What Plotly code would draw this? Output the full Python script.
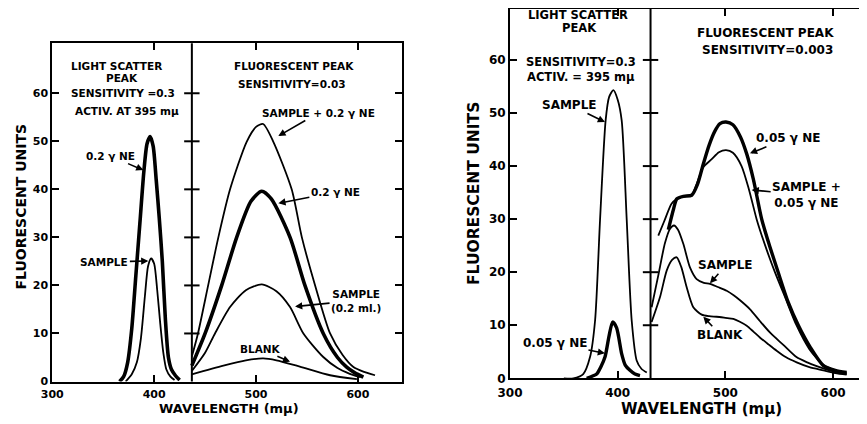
import plotly.graph_objects as go

# page is rendered with an 8px body margin; positions below are in window pixels
OX, OY = 8, 8
W, H = 867 - OX, 424 - OY

# ---------------- Data: left figure ----------------
L_y_ticks = [0, 10, 20, 30, 40, 50, 60]
L_x_ticks = [300, 400, 500, 600]
L_divider = 437

L_sc_ne_wl = [366, 370, 374, 378, 382, 386, 390, 393, 396, 399, 402, 405, 408, 411, 414, 417, 421, 425]
L_sc_ne = [0, 1, 4, 11, 22, 33, 44, 49.5, 51, 49, 42, 34, 25, 13, 5, 2.5, 1.2, 0.3]

L_sc_sample_wl = [372, 378, 383, 387, 391, 394, 397, 400, 403, 406, 409, 412, 416, 420]
L_sc_sample = [0, 1.5, 4, 9, 18, 24, 25.6, 24.5, 19, 12, 6, 2.5, 1, 0.3]

L_fl_sne_wl = [437, 443, 453, 463, 474.5, 490.8, 500, 507, 517, 535, 545, 558, 572.7, 585, 595.6, 606, 616.8]
L_fl_sne = [5.2, 10, 20, 30, 40, 49.9, 53, 53.6, 49.9, 40, 30, 20, 10, 5.5, 3, 2, 1.3]

L_fl_ne_wl = [437, 450, 466.3, 481, 495, 505.6, 515, 533.4, 548, 566, 580, 589, 597, 605.4]
L_fl_ne = [3.3, 10, 20, 30, 37.5, 39.6, 38, 30, 20, 10, 5, 3, 1.8, 0.9]

L_fl_sample_wl = [437, 450, 459.7, 474.5, 490, 505.6, 520, 533.4, 546.5, 566, 580, 592, 602]
L_fl_sample = [2.2, 6, 10, 15.5, 19, 20.2, 18.8, 15.5, 10, 5.1, 2.8, 1.6, 0.9]

L_fl_blank_wl = [437, 468, 490, 507, 520, 543, 572.7, 599]
L_fl_blank = [1.5, 3.3, 4.4, 4.8, 4.4, 3.1, 1.3, 0.5]

# ---------------- Data: right figure ----------------
R_y_ticks = [0, 10, 20, 30, 40, 50, 60]
R_x_ticks = [300, 400, 500, 600]
R_divider = 430.5

R_sc_sample_wl = [350, 358.8, 368, 374.3, 379, 383.6, 388.8, 392, 396, 400, 403.7, 408.4, 413, 417.7, 422, 427]
R_sc_sample = [0, 0, 0.8, 4.0, 10.9, 29.8, 48.6, 53, 54.3, 52.5, 48.6, 29.8, 10.9, 3.3, 1.8, 1.1]

R_sc_ne_wl = [371.2, 380.5, 384, 388.2, 392, 395.3, 399, 403.7, 407, 411.4, 416, 420.7]
R_sc_ne = [0, 0.8, 2, 4.0, 8, 10.6, 9.5, 4.6, 2.5, 1.5, 0.8, 0.5]

R_fl_ne_wl = [447, 452, 454.8, 461, 468.7, 474, 479.5, 485, 490, 495, 500.6, 507, 514, 519.8, 526,
              533.7, 541, 549, 558, 567.7, 579, 591, 602, 612.6]
R_fl_ne = [28, 32, 33.8, 34.3, 34.5, 36.5, 40.4, 44, 46.5, 48, 48.3, 47.8, 45.5, 42.3, 37.5,
           30, 25, 20, 14.5, 10, 5.8, 2.4, 1.5, 1.1]

R_fl_sne_wl = [437.7, 443, 450, 454.8, 461, 468.7, 474, 479.5, 487.3, 494, 500.6, 507, 515, 522,
               529, 537, 546, 556, 566, 578, 591, 602, 612.6]
R_fl_sne = [26.9, 29.5, 32.9, 33.8, 34.3, 34.5, 37, 39.8, 41.3, 42.6, 43, 42.5, 40, 35.5,
            30, 25, 20, 15, 10, 5.5, 2.5, 1.5, 1.0]

R_fl_sample_wl = [431.5, 437.7, 443.9, 448.6, 452.3, 456, 461, 467.1, 473.3, 480, 485.7, 493, 501.2,
                  508, 513.6, 522.9, 532, 542, 553.8, 566, 576, 584.8, 595, 605, 612.6]
R_fl_sample = [13.4, 19.4, 25.5, 28.2, 28.8, 28, 25.3, 20.9, 18.7, 18, 17.8, 17.2, 16.5,
               15.6, 14.7, 13, 10.8, 8.5, 6.3, 4.0, 3.0, 2.3, 1.6, 1.1, 0.8]

R_fl_blank_wl = [431.5, 439.3, 445.5, 450.5, 454.8, 459, 464, 470.2, 478, 485, 491.9, 500, 507.4,
                 513, 519.8, 526, 532, 540, 547.6, 556, 566.2, 578, 591, 602, 612.6]
R_fl_blank = [10.6, 15.3, 20.3, 22.3, 22.8, 21, 17.2, 13.4, 12.0, 11.7, 11.6, 11.4, 11.2,
              10.7, 9.9, 8.8, 7.7, 6.4, 5.2, 4.0, 3.0, 2.1, 1.5, 1.0, 0.7]


def px(x):
    return min(1.0, max(0.0, (x - OX) / W))


def py(y):
    return min(1.0, max(0.0, 1 - (y - OY) / H))


# ---------------- Figure ----------------
fig = go.Figure()
FONT = "DejaVu Sans"


def curve(x, y, xa, ya, w):
    fig.add_trace(go.Scatter(
        x=x, y=y, xaxis=xa, yaxis=ya, mode="lines",
        line=dict(color="black", width=w, shape="spline", smoothing=0.7),
        hoverinfo="skip", showlegend=False))


curve(L_sc_ne_wl, L_sc_ne, "x", "y", 3.6)
curve(L_sc_sample_wl, L_sc_sample, "x", "y", 1.8)
curve(L_fl_sne_wl, L_fl_sne, "x", "y", 1.8)
curve(L_fl_ne_wl, L_fl_ne, "x", "y", 3.6)
curve(L_fl_sample_wl, L_fl_sample, "x", "y", 1.8)
curve(L_fl_blank_wl, L_fl_blank, "x", "y", 1.8)

curve(R_sc_sample_wl, R_sc_sample, "x2", "y2", 1.8)
curve(R_sc_ne_wl, R_sc_ne, "x2", "y2", 3.4)
curve(R_fl_ne_wl, R_fl_ne, "x2", "y2", 3.4)
curve(R_fl_sne_wl, R_fl_sne, "x2", "y2", 1.8)
curve(R_fl_sample_wl, R_fl_sample, "x2", "y2", 1.8)
curve(R_fl_blank_wl, R_fl_blank, "x2", "y2", 1.8)

# crossing tick marks on the divider lines
for div, ticks, xa, ya in [(L_divider, L_y_ticks[1:], "x", "y"), (R_divider, R_y_ticks[1:], "x2", "y2")]:
    fig.add_trace(go.Scatter(
        x=[div] * len(ticks), y=ticks, xaxis=xa, yaxis=ya, mode="markers",
        marker=dict(symbol="line-ew", size=11, line=dict(color="black", width=2)),
        cliponaxis=False, hoverinfo="skip", showlegend=False))

fig.add_shape(type="line", xref="x", yref="y domain", x0=L_divider, x1=L_divider, y0=0, y1=1,
              line=dict(color="black", width=2))
fig.add_shape(type="line", xref="x2", yref="y2 domain", x0=R_divider, x1=R_divider, y0=0, y1=1,
              line=dict(color="black", width=2))

axis_common = dict(showline=True, linecolor="black", linewidth=2, showgrid=False, zeroline=False,
                   ticks="inside", tickwidth=2, tickcolor="black", automargin=False)

fig.update_layout(
    template="none",
    width=W, height=H, margin=dict(l=0, r=0, t=0, b=0, autoexpand=False),
    paper_bgcolor="white", plot_bgcolor="white",
    xaxis=dict(domain=[px(52.3), px(401.7)], range=[300, 643], anchor="y", mirror="ticks",
               tickvals=L_x_ticks, ticklen=7, ticklabelstandoff=1,
               tickfont=dict(family=FONT, size=11, color="black", weight="bold"), **axis_common),
    yaxis=dict(domain=[py(381.5), py(43.3)], range=[0, 70.4], anchor="x", mirror="ticks",
               tickvals=L_y_ticks, ticklen=7,
               tickfont=dict(family=FONT, size=11, color="black", weight="bold"), **axis_common),
    xaxis2=dict(domain=[px(510), 1], range=[300, 631.5], anchor="y2", mirror="ticks",
                tickvals=R_x_ticks, ticklen=7, ticklabelstandoff=2,
                tickfont=dict(family=FONT, size=12, color="black", weight="bold"), **axis_common),
    yaxis2=dict(domain=[py(378.3), py(8.5)], range=[0, 69.7], anchor="x2", mirror=False,
                tickvals=R_y_ticks, ticklen=7,
                tickfont=dict(family=FONT, size=12, color="black", weight="bold"), **axis_common),
    yaxis3=dict(overlaying="y2", anchor="x2", side="right", range=[0, 69.7], showline=False,
                showgrid=False, zeroline=False, ticks="inside", tickvals=R_y_ticks[1:], ticklen=8,
                tickwidth=2, tickcolor="black", showticklabels=False, automargin=False),
)

# invisible trace so that yaxis3 is drawn
fig.add_trace(go.Scatter(x=[300], y=[0], xaxis="x2", yaxis="y3", mode="markers",
                         marker=dict(size=0.1, color="rgba(0,0,0,0)"), hoverinfo="skip", showlegend=False))

ann = []


def txt(s, x, y, size, angle=0):
    ann.append(dict(text=s, x=px(x), y=py(y), xref="paper", yref="paper", showarrow=False,
                    xanchor="center", yanchor="middle", textangle=angle,
                    font=dict(family=FONT, size=size, color="black", weight="bold")))


def arrow(s, x, y, xr, yr, ax, ay, size):
    ann.append(dict(text=s, x=x, y=y, xref=xr, yref=yr, ax=ax, ay=ay, showarrow=True,
                    arrowhead=2, arrowsize=0.9, arrowwidth=1.6, arrowcolor="black", standoff=0,
                    font=dict(family=FONT, size=size, color="black", weight="bold")))


# left figure text
txt("LIGHT SCATTER", 116, 66, 10.5)
txt("PEAK", 122, 78, 10.5)
txt("SENSITIVITY =0.3", 122.5, 92.5, 10.5)
txt("ACTIV. AT 395 mμ", 127, 110.5, 10.5)
txt("FLUORESCENT PEAK", 294, 66, 10.5)
txt("SENSITIVITY=0.03", 292, 84, 10.5)
txt("FLUORESCENT UNITS", 20, 206.5, 14, -90)
txt("WAVELENGTH (mμ)", 229, 408, 13)

arrow("0.2 γ NE", 389.4, 44, "x", "y", -33, -14, 10.5)
arrow("SAMPLE", 394.3, 25.1, "x", "y", -44, 1, 10.5)
arrow("SAMPLE + 0.2 γ NE", 521.9, 51.1, "x", "y", 40, -23, 10.5)
arrow("0.2 γ NE", 521.9, 37.1, "x", "y", 57, -11, 10.5)
arrow("SAMPLE<br>(0.2 ml.)", 538.3, 15.6, "x", "y", 61, -6, 10.5)
arrow("BLANK", 533.4, 4.1, "x", "y", -30, -13, 10.5)

# right figure text
txt("LIGHT SCATTER", 578, 14.5, 11.5)
txt("PEAK", 579, 27.5, 11.5)
txt("SENSITIVITY=0.3", 581, 62, 11.5)
txt("ACTIV. = 395 mμ", 581, 77, 11.5)
txt("FLUORESCENT PEAK", 765, 33, 12)
txt("SENSITIVITY=0.003", 767, 50, 12)
txt("FLUORESCENT UNITS", 474, 194, 15.5, -90)
txt("WAVELENGTH (mμ)", 701, 409, 15)

arrow("SAMPLE", 388.2, 48.3, "x2", "y2", -35, -17, 12)
arrow("0.05 γ NE", 388.2, 4.7, "x2", "y2", -50, -10, 12)
arrow("0.05 γ NE", 522.8, 42.4, "x2", "y2", 38, -15, 12)
arrow("SAMPLE +<br>0.05 γ NE", 524.4, 35.5, "x2", "y2", 55, 5, 12)
arrow("SAMPLE", 485.7, 17.9, "x2", "y2", 16, -18, 12)
arrow("BLANK", 479.5, 11.6, "x2", "y2", 17, 18, 12)

fig.update_layout(annotations=ann)
fig.write_html("out.html")
